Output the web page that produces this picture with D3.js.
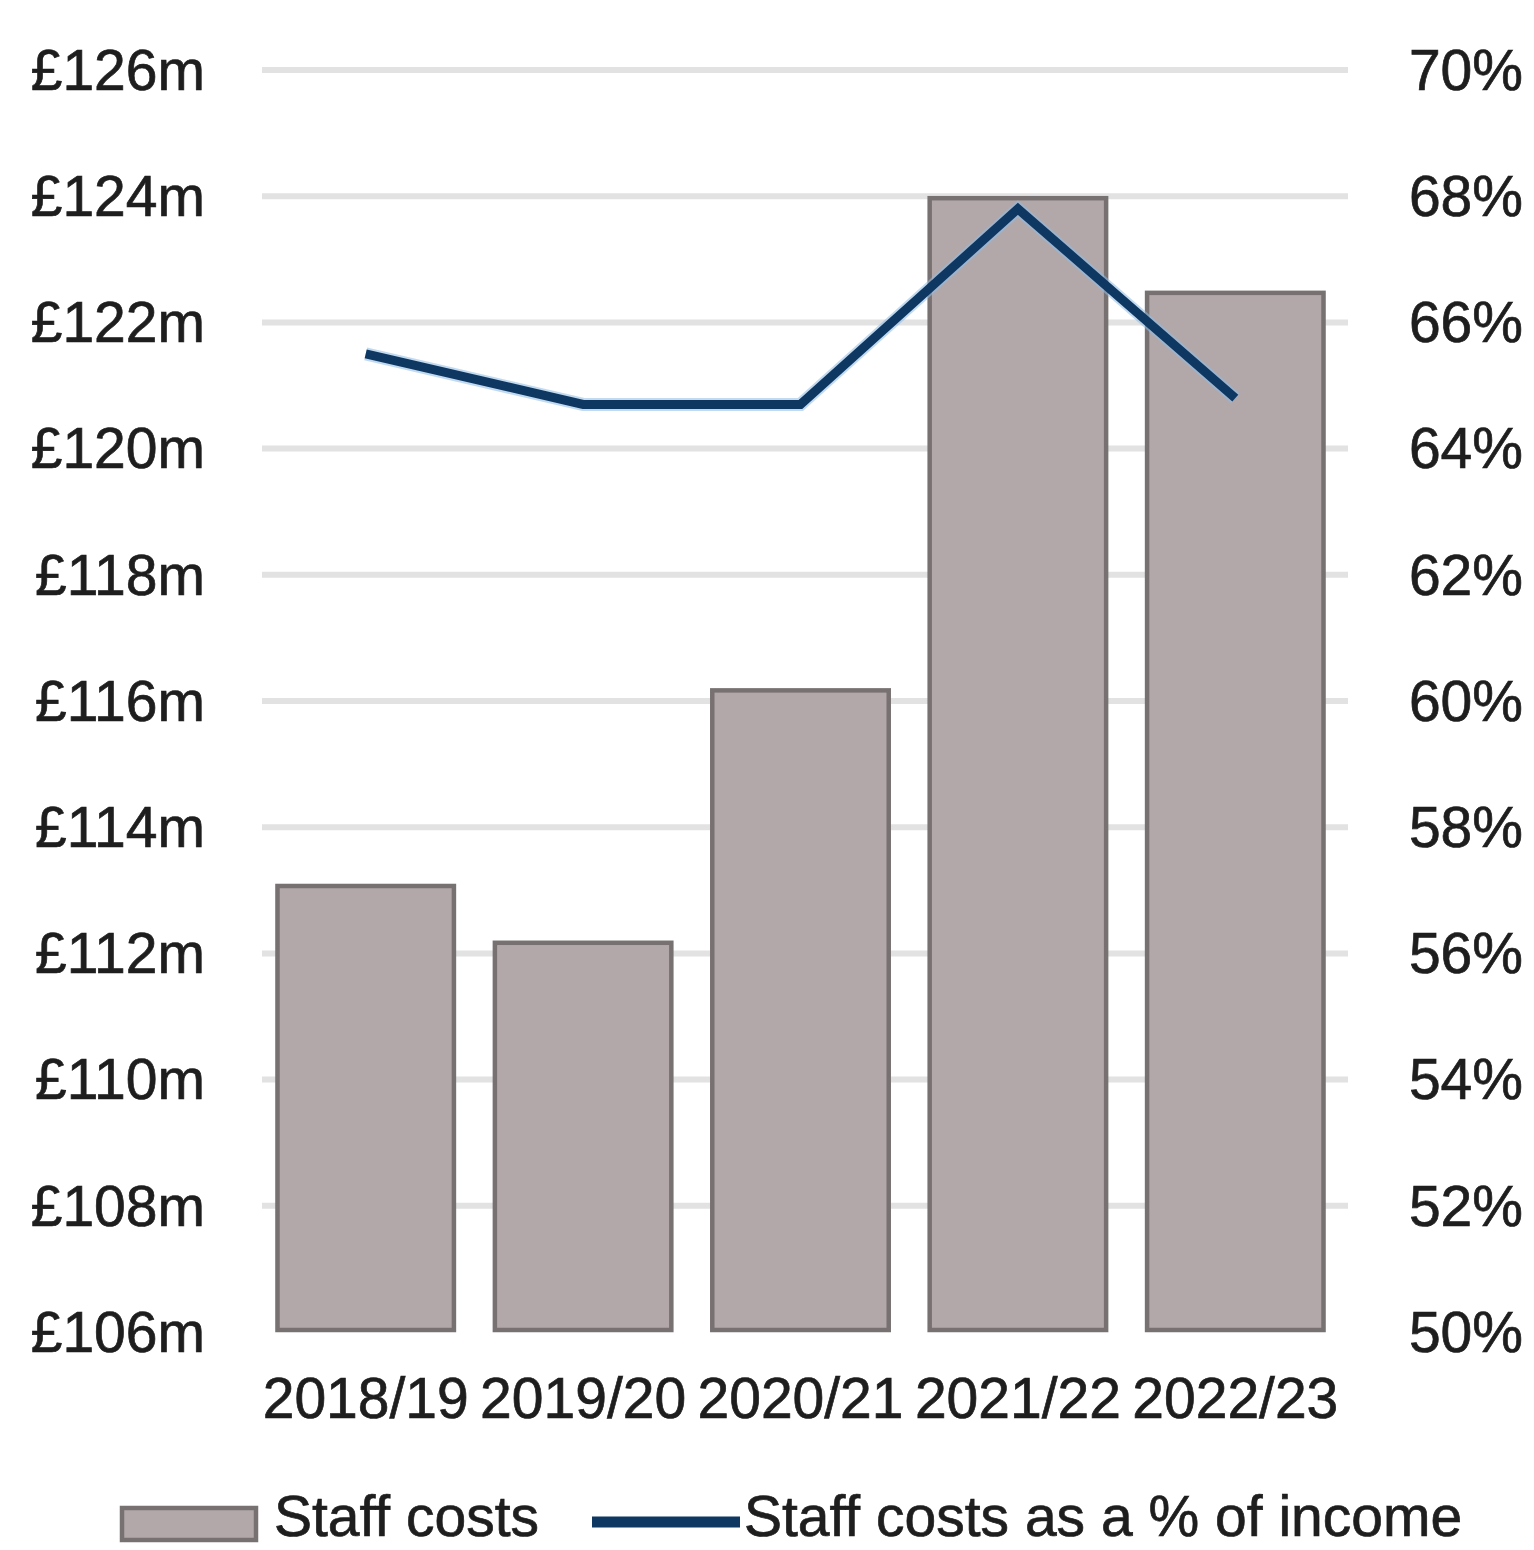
<!DOCTYPE html>
<html>
<head>
<meta charset="utf-8">
<script src="https://cdn.jsdelivr.net/npm/d3@7"></script>
<style>
  html, body { margin: 0; padding: 0; background: #fff; }
  svg { display: block; }
  text { font-family: "Liberation Sans", Arial, sans-serif; fill: #1e1e1e; stroke: #1e1e1e; stroke-width: 0.7px; }
</style>
</head>
<body>
<svg id="chart" width="1534" height="1550"></svg>
<script>
// Financial years
const years = ["2018/19", "2019/20", "2020/21", "2021/22", "2022/23"];
// Staff costs, £m
const staffCosts = [113.1, 112.2, 116.2, 124.0, 122.5];
// Staff costs as a % of income
const staffPct = [65.5, 64.7, 64.7, 67.8, 64.8];
// Axis ticks
const leftTicks = [106, 108, 110, 112, 114, 116, 118, 120, 122, 124, 126];
const rightTicks = [50, 52, 54, 56, 58, 60, 62, 64, 66, 68, 70];
const legendLabels = ["Staff costs", "Staff costs as a % of income"];

const FS = 57;
const svg = d3.select("#chart");
const plotTop = 70, plotBottom = 1332, plotLeft = 257, plotRight = 1344;

const x = d3.scaleBand().domain(years).range([plotLeft, plotRight])
  .paddingInner(0.17).paddingOuter(0.085);
const yL = d3.scaleLinear().domain([106, 126]).range([plotBottom, plotTop]);
const yR = d3.scaleLinear().domain([50, 70]).range([plotBottom, plotTop]);

// Gridlines
svg.append("g").selectAll("line").data(leftTicks.slice(1)).join("line")
  .attr("x1", 262).attr("x2", 1348)
  .attr("y1", d => yL(d)).attr("y2", d => yL(d))
  .attr("stroke", "#e2e2e2").attr("stroke-width", 6);

function styleTicks(g, dy) {
  g.select(".domain").remove();
  g.selectAll("text").attr("font-size", FS).attr("dy", dy)
    .style("font-family", "Liberation Sans, Arial, sans-serif")
    .attr("fill", "#1e1e1e");
}

// Left axis
svg.append("g").attr("transform", "translate(205,0)")
  .call(d3.axisLeft(yL).tickValues(leftTicks).tickSize(0).tickPadding(0)
    .tickFormat(d => `£${d}m`))
  .call(styleTicks, "0.34em");

// Right axis
svg.append("g").attr("transform", "translate(1523,0)")
  .call(d3.axisLeft(yR).tickValues(rightTicks).tickSize(0).tickPadding(0)
    .tickFormat(d => `${d}%`))
  .call(styleTicks, "0.34em");

// Bars
svg.append("g").selectAll("rect").data(years).join("rect")
  .attr("x", d => x(d) + 2)
  .attr("width", x.bandwidth() - 4)
  .attr("y", (d, i) => yL(staffCosts[i]) + 2)
  .attr("height", (d, i) => plotBottom - yL(staffCosts[i]) - 4)
  .attr("fill", "#b2a8aa")
  .attr("stroke", "#777171").attr("stroke-width", 4.5);

// Category axis
svg.append("g").attr("transform", `translate(0,${plotBottom})`)
  .call(d3.axisBottom(x).tickSize(0).tickPadding(0))
  .call(styleTicks, "1.5em");

// Percentage line
const line = d3.line()
  .x((d, i) => x(years[i]) + x.bandwidth() / 2)
  .y(d => yR(d));
svg.append("path").datum(staffPct)
  .attr("d", line).attr("fill", "none")
  .attr("stroke", "#8fbbe3").attr("stroke-width", 13).attr("opacity", 0.55)
  .attr("stroke-linejoin", "miter");
svg.append("path").datum(staffPct)
  .attr("d", line).attr("fill", "none")
  .attr("stroke", "#0e3862").attr("stroke-width", 9)
  .attr("stroke-linejoin", "miter");

// Legend
const lg = svg.append("g");
lg.append("rect").attr("x", 122).attr("y", 1508).attr("width", 134).attr("height", 32)
  .attr("fill", "#b2a8aa").attr("stroke", "#777171").attr("stroke-width", 4.5);
lg.append("text").attr("x", 274).attr("y", 1536).attr("font-size", FS).text(legendLabels[0]);
lg.append("line").attr("x1", 592).attr("x2", 740).attr("y1", 1522).attr("y2", 1522)
  .attr("stroke", "#0e3862").attr("stroke-width", 11);
lg.append("text").attr("x", 744).attr("y", 1536).attr("font-size", FS).text(legendLabels[1]);
</script>
</body>
</html>
